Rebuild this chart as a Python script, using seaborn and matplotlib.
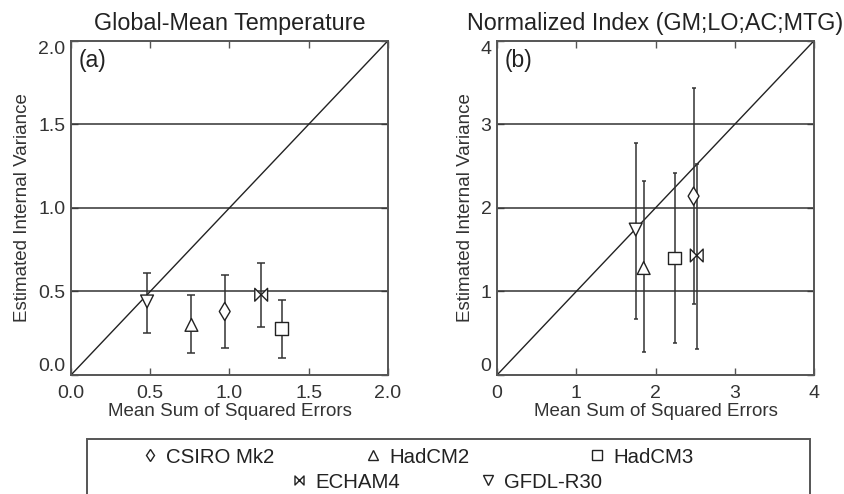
import numpy as np
import pandas as pd
import matplotlib
matplotlib.use("Agg")
import matplotlib.pyplot as plt
from matplotlib.path import Path
from matplotlib.lines import Line2D
from matplotlib.patches import Rectangle
import seaborn as sns

# ---------------- data ----------------
models = ["CSIRO Mk2", "HadCM2", "HadCM3", "ECHAM4", "GFDL-R30"]

# panel (a): Global-Mean Temperature
a_x = [0.97, 0.76, 1.33, 1.20, 0.48]
a_y = [0.38, 0.30, 0.28, 0.48, 0.44]
a_lo = [0.16, 0.13, 0.10, 0.285, 0.25]
a_hi = [0.60, 0.48, 0.45, 0.67, 0.61]

# panel (b): Normalized Index
b_x = [2.48, 1.85, 2.24, 2.52, 1.75]
b_y = [2.14, 1.28, 1.40, 1.43, 1.74]
b_lo = [0.85, 0.27, 0.38, 0.31, 0.67]
b_hi = [3.44, 2.32, 2.42, 2.53, 2.78]

a_ticks = [0.0, 0.5, 1.0, 1.5, 2.0]
a_ticklabels = ["0.0", "0.5", "1.0", "1.5", "2.0"]
b_ticks = [0, 1, 2, 3, 4]
b_ticklabels = ["0", "1", "2", "3", "4"]

titles = ["Global-Mean Temperature", "Normalized Index (GM;LO;AC;MTG)"]
panel_labels = ["(a)", "(b)"]
xlabel = "Mean Sum of Squared Errors"
ylabel = "Estimated Internal Variance"

# ---------------- style ----------------
sns.set_theme(style="ticks")
plt.rcParams["font.family"] = ["Liberation Sans", "DejaVu Sans"]

bowtie = Path([(-1, 1), (1, -1), (1, 1), (-1, -1), (-1, 1)],
              [Path.MOVETO, Path.LINETO, Path.LINETO, Path.LINETO, Path.CLOSEPOLY])
marker_map = {"CSIRO Mk2": "d", "HadCM2": "^", "HadCM3": "s",
              "ECHAM4": bowtie, "GFDL-R30": "v"}

ink = "#222222"
frame = "#555555"

fig = plt.figure(figsize=(8.44, 4.94), dpi=100)
ax_a = fig.add_axes([0.0841, 0.2409, 0.3756, 0.6767])
ax_b = fig.add_axes([0.5889, 0.2409, 0.3756, 0.6767])

panels = [
    (ax_a, a_x, a_y, a_lo, a_hi, 2.0, a_ticks, a_ticklabels, [0.5, 1.0, 1.5], 3.0),
    (ax_b, b_x, b_y, b_lo, b_hi, 4.0, b_ticks, b_ticklabels, [1, 2, 3], 1.5),
]

for i, (ax, xs, ys, lo, hi, lim, ticks, tlabels, grid, cap) in enumerate(panels):
    df = pd.DataFrame({"model": models, "x": xs, "y": ys, "lo": lo, "hi": hi})
    for g in grid:
        ax.axhline(g, color="#333333", lw=1.1, zorder=1)
    ax.axline((0, 0), slope=1, color=ink, lw=1.0, zorder=1)
    yerr = np.vstack([df["y"] - df["lo"], df["hi"] - df["y"]])
    ax.errorbar(df["x"], df["y"], yerr=yerr, fmt="none", ecolor="#333333",
                elinewidth=1.1, capsize=cap, capthick=1.1, zorder=2)
    sns.scatterplot(data=df, x="x", y="y", style="model", markers=marker_map,
                    style_order=models, s=85, color="white", edgecolor=ink,
                    linewidth=1.0, legend=False, ax=ax, zorder=3)
    ax.set_xlim(0, lim)
    ax.set_ylim(0, lim)
    ax.set_xticks(ticks)
    ax.set_xticklabels(tlabels)
    ax.set_yticks(ticks)
    ax.set_yticklabels(tlabels)
    ax.tick_params(direction="in", top=True, right=True, length=5, width=1.0,
                   color=frame, labelsize=14, labelcolor="#333333")
    ax.tick_params(axis="x", pad=7)
    ax.tick_params(axis="y", pad=4)
    ylabs = ax.get_yticklabels()
    ylabs[0].set_va("bottom")
    ylabs[-1].set_va("top")
    for sp in ax.spines.values():
        sp.set_visible(True)
        sp.set_color(frame)
        sp.set_linewidth(1.4)
    ax.set_xlabel(xlabel, fontsize=13.5, color="#333333", labelpad=1)
    ax.set_ylabel(ylabel, fontsize=13.5, color="#333333", labelpad=5)
    ax.set_title(titles[i], fontsize=16.8, color="#222222", pad=8)
    ax.text(0.025, 0.975, panel_labels[i], transform=ax.transAxes, ha="left",
            va="top", fontsize=16.5, color="#222222")

# ---------------- legend ----------------
fig.add_artist(Rectangle((87 / 844, -0.05), (810 - 87) / 844, 0.05 + 1 - 439 / 494,
                         transform=fig.transFigure, fill=False,
                         edgecolor=frame, lw=1.4))

leg_pos = {  # marker centre x (px), row y (px)
    "CSIRO Mk2": (150, 457),
    "HadCM2": (373, 457),
    "HadCM3": (597, 457),
    "ECHAM4": (299, 482),
    "GFDL-R30": (488, 482),
}
fs_leg = 14.7
for m in models:
    mx, my = leg_pos[m]
    h = Line2D([], [], linestyle="none", marker=marker_map[m], markersize=6.5,
               markerfacecolor="white", markeredgecolor=ink, markeredgewidth=1.0)
    handle_px = 1.0 * fs_leg * 100 / 72
    leg = fig.legend(handles=[h], labels=[m], loc="center left",
                     bbox_to_anchor=((mx - handle_px / 2) / 844, 1 - my / 494),
                     frameon=False, fontsize=fs_leg, handlelength=1.0,
                     handletextpad=0.3, borderpad=0, borderaxespad=0)
    for t in leg.get_texts():
        t.set_color("#222222")

fig.savefig("out.png", dpi=100)
